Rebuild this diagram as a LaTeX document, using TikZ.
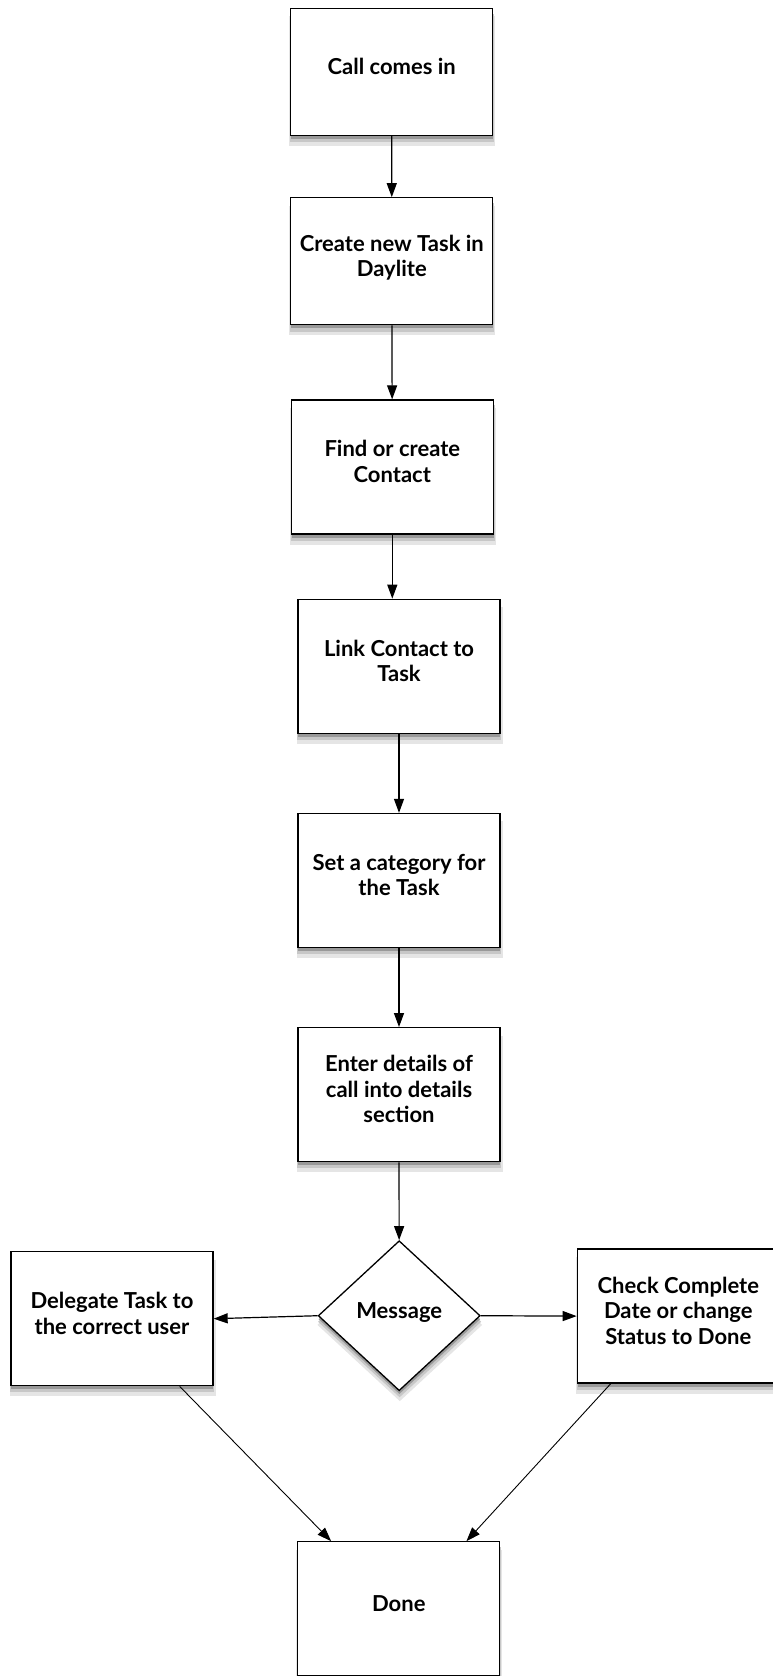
\documentclass[tikz,border=0pt]{standalone}
\usepackage{fontspec}
\setmainfont{Lato}
\usetikzlibrary{arrows.meta,shapes.geometric,shadows}

\begin{document}
\begin{tikzpicture}[x=1pt,y=-1pt,
  softshadow/.style={general shadow={shadow xshift=.6pt,shadow yshift=-9pt,shadow scale=1.02,fill=black!10},
                     general shadow={shadow xshift=.4pt,shadow yshift=-6pt,shadow scale=1.01,fill=black!22},
                     general shadow={shadow xshift=.2pt,shadow yshift=-3.5pt,fill=black!40}},
  stepbox/.style={draw,line width=1.3pt,fill=white,minimum width=202pt,minimum height=134pt,
                  inner sep=0pt,align=center,softshadow,text depth=11pt,
                  font=\fontsize{22}{25.5}\selectfont\bfseries},
  shortbox/.style={stepbox,minimum height=127pt},
  decision/.style={diamond,draw,line width=1.3pt,fill=white,minimum width=162pt,minimum height=150pt,
                   inner sep=0pt,softshadow,text depth=11pt,font=\fontsize{22}{25.5}\selectfont\bfseries},
  flow/.style={line width=1.2pt,-{Triangle[length=14pt,width=10pt]}},
  thinflow/.style={line width=.9pt,-{Triangle[length=14pt,width=10pt]}}]
\useasboundingbox (0,0) rectangle (773,1676);
\node[shortbox] (call) at (391.7,72) {Call comes in};
\node[shortbox] (task) at (391.8,261.3) {Create new Task in\\Daylite};
\node[stepbox] (contact) at (392.3,467) {Find or create\\Contact};
\node[stepbox] (link) at (399,666.3) {Link Contact to\\Task};
\node[stepbox] (category) at (399,880.5) {Set a category for\\the Task};
\node[stepbox] (details) at (399,1094.7) {Enter details of\\call into details\\section};
\node[decision] (message) at (399.2,1315.7) {Message};
\node[stepbox] (delegate) at (112,1318.7) {Delegate Task to\\the correct user};
\node[stepbox] (check) at (678.3,1316.1) {Check Complete\\Date or change\\Status to Done};
\node[stepbox] (done) at (398.8,1608.8) {Done};

\draw[flow] (call) -- (task);
\draw[flow] (task) -- (contact);
\draw[flow] (contact.south) -- (contact.south |- link.north);
\draw[flow] (link) -- (category);
\draw[flow] (category) -- (details);
\draw[flow] (details) -- (message);
\draw[flow] (message.west) -- (delegate.east);
\draw[flow] (message.east) -- (check.west);
\draw[thinflow] (delegate.-45) -- (done.135);
\draw[thinflow] (check.-135) -- (done.45);
\end{tikzpicture}
\end{document}
